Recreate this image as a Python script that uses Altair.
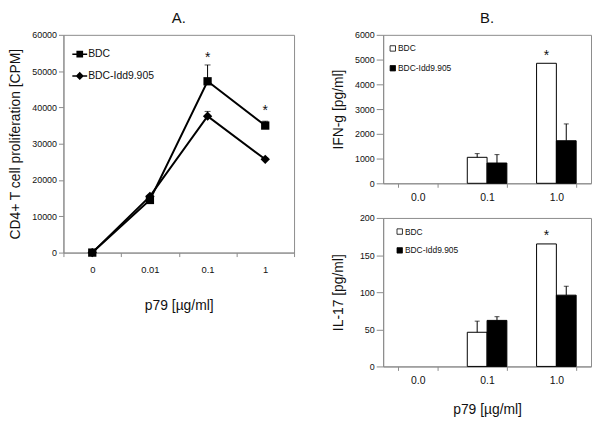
import altair as alt
import pandas as pd

FONT = "Liberation Sans"
TXT = "#111111"
GRAY = "#8c8c8c"

# ---------------- data ----------------
series = ["BDC", "BDC-Idd9.905"]

doses_A = ["0", "0.01", "0.1", "1"]
bdc_A = [0, 14500, 47200, 35000]
bdc_A_err = [0, 500, 4500, 1200]
idd_A = [0, 15500, 37600, 25700]
idd_A_err = [0, 300, 1300, 400]
star_A_y = [None, None, 54800, 40200]
ticks_A = [0, 10000, 20000, 30000, 40000, 50000, 60000]

doses_B = ["0.0", "0.1", "1.0"]
ifn_bdc = [0, 1050, 4850]
ifn_bdc_err = [0, 150, 0]
ifn_idd = [0, 820, 1720]
ifn_idd_err = [0, 340, 680]
ifn_star_y = [None, None, 5300]
ticks_ifn = [0, 1000, 2000, 3000, 4000, 5000, 6000]

il17_bdc = [0, 46, 165]
il17_bdc_err = [0, 15, 0]
il17_idd = [0, 62, 96]
il17_idd_err = [0, 5, 12]
il17_star_y = [None, None, 181]
ticks_il17 = [0, 50, 100, 150, 200]


def long_df(doses, a, a_err, b, b_err):
    rows = []
    for s, vals, errs in ((series[0], a, a_err), (series[1], b, b_err)):
        for d, v, e in zip(doses, vals, errs):
            rows.append({"dose": d, "series": s, "value": v, "err": e, "top": v + e})
    return pd.DataFrame(rows)


def star_df(doses, ys):
    return pd.DataFrame([{"dose": d, "series": series[0], "star": y}
                         for d, y in zip(doses, ys) if y is not None])


# ---------------- panel A ----------------
dfA = long_df(doses_A, bdc_A, bdc_A_err, idd_A, idd_A_err)
xA = alt.X("dose:N", sort=doses_A,
           scale=alt.Scale(type="band", domain=doses_A, paddingInner=0, paddingOuter=0),
           axis=alt.Axis(title="p79 [µg/ml]", labelAngle=0, tickBand="extent",
                         labelFontSize=9.5, labelPadding=8, tickSize=4,
                         titleFontSize=14, titlePadding=25))
axisA_y = alt.Axis(title="CD4+ T cell proliferation [CPM]", values=ticks_A, tickCount=20,
                   format="d", grid=False, labelFontSize=9, tickSize=5, labelOverlap=False,
                   labelPadding=2, titleFontSize=14, titlePadding=9)
scaleA_y = alt.Scale(domain=[0, 60000])


def yA(field):
    return alt.Y(field, scale=scaleA_y, axis=axisA_y)


# legend symbols: a short line with the marker on it, each as one closed outline
path_sq = ("M-1,-0.1L-0.45,-0.1L-0.45,-0.45L0.45,-0.45L0.45,-0.1L1,-0.1L1,0.1"
           "L0.45,0.1L0.45,0.45L-0.45,0.45L-0.45,0.1L-1,0.1Z")
path_di = ("M-1,-0.1L-0.45,-0.1L0,-0.55L0.45,-0.1L1,-0.1L1,0.1"
           "L0.45,0.1L0,0.55L-0.45,0.1L-1,0.1Z")


def legA(sym, ly):
    return alt.Legend(title=None, orient="none", legendX=9, legendY=ly, symbolType=sym,
                      symbolSize=225, symbolStrokeWidth=0, symbolOpacity=1,
                      labelFontSize=10.5, labelFont=FONT, labelColor=TXT,
                      labelOffset=1, padding=0)


baseA = alt.Chart(dfA)
linesA = baseA.mark_line(color="black", strokeWidth=2).encode(x=xA, y=yA("value:Q"), detail="series:N")
ptsBDC = baseA.transform_filter(alt.datum.series == series[0]).mark_point(
    filled=True, shape="square", size=70, opacity=1).encode(
    x=xA, y=yA("value:Q"),
    fill=alt.Fill("series:N", scale=alt.Scale(domain=[series[0]], range=["black"]),
                  legend=legA(path_sq, 12)))
ptsIdd = baseA.transform_filter(alt.datum.series == series[1]).mark_point(
    filled=True, shape="diamond", size=90, opacity=1).encode(
    x=xA, y=yA("value:Q"),
    fill=alt.Fill("series:N", scale=alt.Scale(domain=[series[1]], range=["black"]),
                  legend=legA(path_di, 34)))
errA = baseA.transform_filter("datum.err > 0").mark_rule(color="black", strokeWidth=1).encode(
    x=xA, y=yA("value:Q"), y2="top:Q")
capA = baseA.transform_filter("datum.err > 0").mark_tick(
    color="black", orient="horizontal", size=6, thickness=1).encode(x=xA, y=yA("top:Q"))
starA = alt.Chart(star_df(doses_A, star_A_y)).mark_text(
    text="*", fontSize=14, font=FONT, color=TXT, baseline="middle", dy=4).encode(
    x=xA, y=yA("star:Q"))

chartA = alt.layer(linesA, errA, capA, ptsBDC, ptsIdd, starA).resolve_scale(
    fill="independent").resolve_legend(fill="independent").properties(
    width=233, height=220,
    title=alt.TitleParams("A.", fontSize=15, font=FONT, fontWeight="normal", color=TXT, offset=5))


# ---------------- panel B ----------------
def make_B(a, a_err, b, b_err, star_y, dmax, ticks, ytitle, ytp, xtitle, title, lx, ly, rp):
    df = long_df(doses_B, a, a_err, b, b_err)
    xaxis = alt.Axis(title=xtitle, labelAngle=0, tickBand="extent", labelFontSize=10.5,
                     labelPadding=5, tickSize=4, titleFontSize=14, titlePadding=17)
    x = alt.X("dose:N", sort=doses_B,
              scale=alt.Scale(type="band", domain=doses_B, paddingInner=0.4286, paddingOuter=0.2143),
              axis=xaxis)
    xo = alt.XOffset("series:N", sort=series,
                     scale=alt.Scale(domain=series, paddingInner=0, paddingOuter=0))
    yax = alt.Axis(title=ytitle, values=ticks, tickCount=20, format="d", grid=False,
                   labelOverlap=False, labelFontSize=9, tickSize=7, labelPadding=2,
                   titleFontSize=14, titlePadding=ytp)
    ysc = alt.Scale(domain=[0, dmax])

    def y(field):
        return alt.Y(field, scale=ysc, axis=yax)

    base = alt.Chart(df)
    bars = base.transform_filter("datum.value > 0").mark_bar(stroke="black", strokeWidth=1).encode(
        x=x, xOffset=xo, y=y("value:Q"),
        fill=alt.Fill("series:N", scale=alt.Scale(domain=series, range=["white", "black"]),
                      legend=alt.Legend(title=None, orient="none", legendX=lx, legendY=ly,
                                        symbolType="square", symbolSize=30,
                                        symbolStrokeColor="black", symbolStrokeWidth=0.8,
                                        labelFontSize=8.5, labelFont=FONT, labelColor=TXT,
                                        labelOffset=1, rowPadding=rp, padding=0)))
    err = base.transform_filter("datum.err > 0").mark_rule(color="black", strokeWidth=1).encode(
        x=x, xOffset=xo, y=y("value:Q"), y2="top:Q")
    cap = base.transform_filter("datum.err > 0").mark_tick(
        color="black", orient="horizontal", size=5, thickness=1).encode(
        x=x, xOffset=xo, y=y("top:Q"))
    star = alt.Chart(star_df(doses_B, star_y)).mark_text(
        text="*", fontSize=14, font=FONT, color=TXT, baseline="middle", dy=4).encode(
        x=x, xOffset=xo, y=y("star:Q"))
    props = dict(width=210, height=150)
    if title:
        props["title"] = alt.TitleParams(title, fontSize=15, font=FONT, fontWeight="normal",
                                         color=TXT, offset=5)
    return alt.layer(bars, err, cap, star).properties(**props)


chartB1 = make_B(ifn_bdc, ifn_bdc_err, ifn_idd, ifn_idd_err, ifn_star_y, 6000,
                 ticks_ifn, "IFN-g [pg/ml]", 9, None, "B.", 5.5, 9.5, 10)
chartB2 = make_B(il17_bdc, il17_bdc_err, il17_idd, il17_idd_err, il17_star_y, 200,
                 ticks_il17, "IL-17 [pg/ml]", 14, "p79 [µg/ml]", None, 12.5, 9.5, 9)

right = alt.vconcat(chartB1, chartB2, spacing=10).resolve_scale(
    fill="independent").resolve_legend(fill="independent")

chart = alt.hconcat(chartA, right, spacing=36).resolve_scale(
    fill="independent").resolve_legend(fill="independent").properties(
    padding={"left": 0, "top": 0, "right": 0, "bottom": 0},
    background="white"
).configure_view(stroke=GRAY, strokeWidth=1).configure_axis(
    domainColor=GRAY, tickColor=GRAY, labelColor=TXT, titleColor=TXT,
    labelFont=FONT, titleFont=FONT, titleFontWeight="normal"
)

chart.save("out.html", embed_options={"renderer": "svg", "actions": False})
